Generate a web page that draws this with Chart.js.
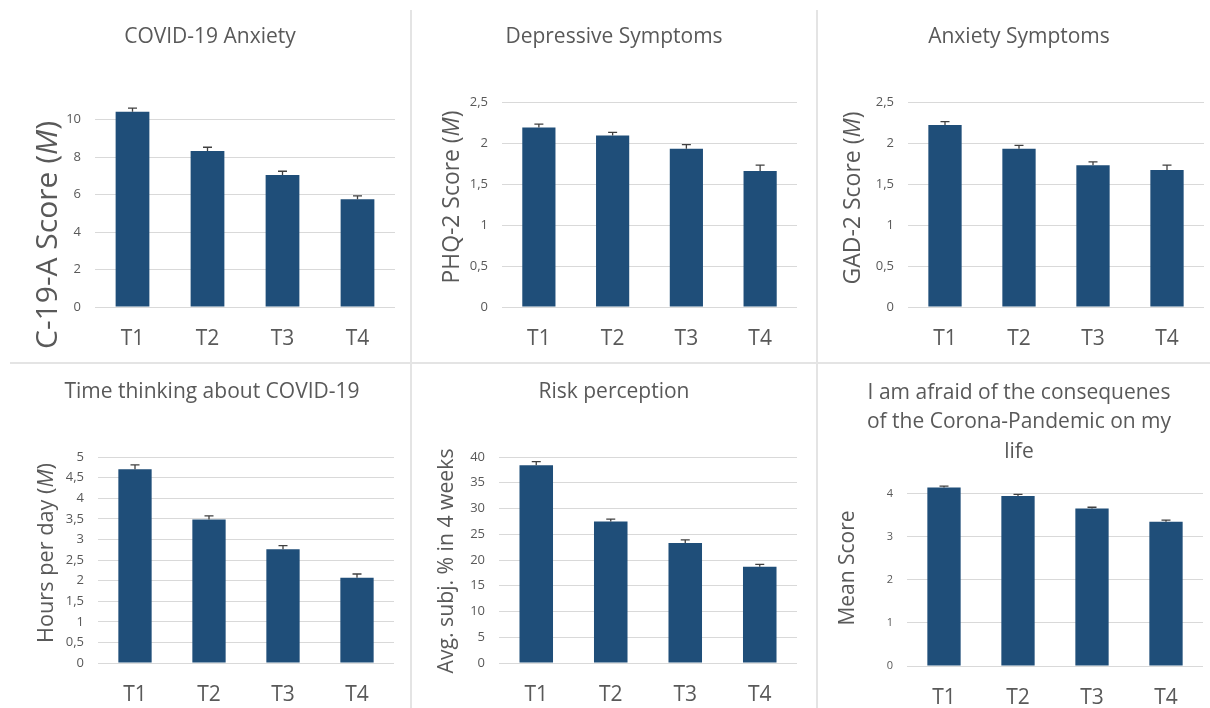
<!DOCTYPE html>
<html>
<head>
<meta charset="utf-8">
<script src="https://cdn.jsdelivr.net/npm/chart.js@4.4.1/dist/chart.umd.min.js"></script>
<style>
  body { margin: 0; background: #fff; }
  #page { position: relative; width: 1210px; height: 708px; overflow: hidden; background: #fff; }
  .panel { position: absolute; }
  .vline { position: absolute; width: 2px; background: #e4e4e4; }
  .hline { position: absolute; height: 2px; background: #e4e4e4; }
</style>
</head>
<body>
<div id="page">
  <div class="vline" style="left:410px; top:10px; height:698px"></div>
  <div class="vline" style="left:816px; top:10px; height:698px"></div>
  <div class="hline" style="left:10px; top:362px; width:1200px"></div>
  <canvas class="panel" id="c1" width="410" height="362" style="left:0px; top:0px"></canvas>
  <canvas class="panel" id="c2" width="404" height="362" style="left:412px; top:0px"></canvas>
  <canvas class="panel" id="c3" width="392" height="362" style="left:818px; top:0px"></canvas>
  <canvas class="panel" id="c4" width="410" height="344" style="left:0px; top:364px"></canvas>
  <canvas class="panel" id="c5" width="404" height="344" style="left:412px; top:364px"></canvas>
  <canvas class="panel" id="c6" width="392" height="344" style="left:818px; top:364px"></canvas>
</div>
<script>
// measurement points
const timepoints = ["T1", "T2", "T3", "T4"];

// means and standard errors
const anxietyMeans = [10.42, 8.33, 7.05, 5.75];
const anxietyErr = [0.2, 0.2, 0.2, 0.18];
const phqMeans = [2.19, 2.09, 1.93, 1.66];
const phqErr = [0.04, 0.04, 0.05, 0.07];
const gadMeans = [2.22, 1.93, 1.73, 1.67];
const gadErr = [0.04, 0.04, 0.04, 0.06];
const hoursMeans = [4.70, 3.48, 2.76, 2.07];
const hoursErr = [0.11, 0.09, 0.09, 0.09];
const riskMeans = [38.4, 27.5, 23.3, 18.7];
const riskErr = [0.7, 0.45, 0.6, 0.45];
const afraidMeans = [4.15, 3.95, 3.66, 3.35];
const afraidErr = [0.03, 0.04, 0.03, 0.04];

const textColor = "#595959";
const barColor = "#1f4e79";
const fontFamily = "'Open Sans', sans-serif";

// yTitleLen = length of the rotated axis title in the original figure
const panels = [
  { id: "c1", w: 410, h: 362, title: ["COVID-19 Anxiety"], titleX: 210, titleY: 37,
    yTitle: [["C-19-A Score (", false], ["M", true], [")", false]], yTitleX: 48, yTitleY: 235, yTitleLen: 228,
    means: anxietyMeans, err: anxietyErr, max: 11, step: 2,
    plotLeft: 95, plotRight: 395, plotTop: 101, plotBottom: 307, tickSize: 13 },
  { id: "c2", w: 404, h: 362, title: ["Depressive Symptoms"], titleX: 202, titleY: 37,
    yTitle: [["PHQ-2 Score (", false], ["M", true], [")", false]], yTitleX: 40, yTitleY: 197, yTitleLen: 173,
    means: phqMeans, err: phqErr, max: 2.5, step: 0.5,
    plotLeft: 90, plotRight: 385, plotTop: 102, plotBottom: 307, tickSize: 13 },
  { id: "c3", w: 392, h: 362, title: ["Anxiety Symptoms"], titleX: 201, titleY: 37,
    yTitle: [["GAD-2 Score (", false], ["M", true], [")", false]], yTitleX: 35, yTitleY: 198, yTitleLen: 173,
    means: gadMeans, err: gadErr, max: 2.5, step: 0.5,
    plotLeft: 90, plotRight: 386, plotTop: 102, plotBottom: 307, tickSize: 13 },
  { id: "c4", w: 410, h: 344, title: ["Time thinking about COVID-19"], titleX: 212, titleY: 28,
    yTitle: [["Hours per day (", false], ["M", true], [")", false]], yTitleX: 47, yTitleY: 189, yTitleLen: 180,
    means: hoursMeans, err: hoursErr, max: 5, step: 0.5,
    plotLeft: 98, plotRight: 394, plotTop: 93, plotBottom: 299, tickSize: 13 },
  { id: "c5", w: 404, h: 344, title: ["Risk perception"], titleX: 202, titleY: 28,
    yTitle: [["Avg. subj. % in 4 weeks", false]], yTitleX: 35, yTitleY: 197, yTitleLen: 225,
    means: riskMeans, err: riskErr, max: 40, step: 5,
    plotLeft: 87, plotRight: 385, plotTop: 93, plotBottom: 299, tickSize: 13 },
  { id: "c6", w: 392, h: 344, title: ["I am afraid of the consequenes", "of the Corona-Pandemic on my", "life"], titleX: 201, titleY: 29,
    yTitle: [["Mean Score", false]], yTitleX: 30, yTitleY: 204, yTitleLen: 115,
    means: afraidMeans, err: afraidErr, max: 4.3, step: 1,
    plotLeft: 89, plotRight: 385, plotTop: 117, plotBottom: 302, tickSize: 11 }
];

// error bars + titles drawn on top of each chart
function makeDecor(p) {
  return {
    id: "decor_" + p.id,
    afterDatasetsDraw(chart) {
      const ctx = chart.ctx;
      const y = chart.scales.y;
      const meta = chart.getDatasetMeta(0);
      ctx.save();
      ctx.strokeStyle = "#404040";
      ctx.lineWidth = 1.3;
      meta.data.forEach((bar, i) => {
        const top = y.getPixelForValue(p.means[i] + p.err[i]);
        ctx.beginPath();
        ctx.moveTo(bar.x, bar.y);
        ctx.lineTo(bar.x, top);
        ctx.moveTo(bar.x - 4.5, top);
        ctx.lineTo(bar.x + 4.5, top);
        ctx.stroke();
      });
      ctx.restore();
    },
    afterDraw(chart) {
      const ctx = chart.ctx;
      ctx.save();
      ctx.fillStyle = textColor;
      ctx.textAlign = "center";
      ctx.textBaseline = "middle";
      ctx.font = "21px " + fontFamily;
      p.title.forEach((line, i) => ctx.fillText(line, p.titleX, p.titleY + i * 29.5));

      // rotated axis title, with italic parts, sized to its original length
      ctx.translate(p.yTitleX, p.yTitleY);
      ctx.rotate(-Math.PI / 2);
      ctx.textAlign = "left";
      const fnt = it => (it ? "italic " : "") + "21px " + fontFamily;
      let total = 0;
      p.yTitle.forEach(s => { ctx.font = fnt(s[1]); total += ctx.measureText(s[0]).width; });
      const k = p.yTitleLen / total;
      ctx.scale(k, k);
      let x = -total / 2;
      p.yTitle.forEach(s => {
        ctx.font = fnt(s[1]);
        ctx.fillText(s[0], x, 0);
        x += ctx.measureText(s[0]).width;
      });
      ctx.restore();
    }
  };
}

panels.forEach(p => {
  new Chart(document.getElementById(p.id), {
    type: "bar",
    data: {
      labels: timepoints,
      datasets: [{
        data: p.means,
        backgroundColor: barColor,
        barPercentage: 0.45,
        categoryPercentage: 1
      }]
    },
    options: {
      responsive: false,
      animation: false,
      layout: { padding: { top: p.plotTop, right: p.w - p.plotRight, left: 0, bottom: 0 } },
      plugins: { legend: { display: false }, tooltip: { enabled: false } },
      scales: {
        x: {
          grid: { display: false, drawTicks: false },
          border: { display: false },
          ticks: { color: textColor, font: { size: 21, family: fontFamily }, padding: 19 },
          afterFit: s => { s.height = p.h - p.plotBottom; }
        },
        y: {
          min: 0,
          max: p.max,
          grid: { color: "#d9d9d9", drawTicks: false },
          border: { display: false },
          ticks: {
            stepSize: p.step,
            includeBounds: false,
            color: textColor,
            font: { size: p.tickSize, family: fontFamily },
            padding: 14,
            callback: v => String(v).replace(".", ",")
          },
          afterFit: s => { s.width = p.plotLeft; }
        }
      }
    },
    plugins: [makeDecor(p)]
  });
});
</script>
</body>
</html>
